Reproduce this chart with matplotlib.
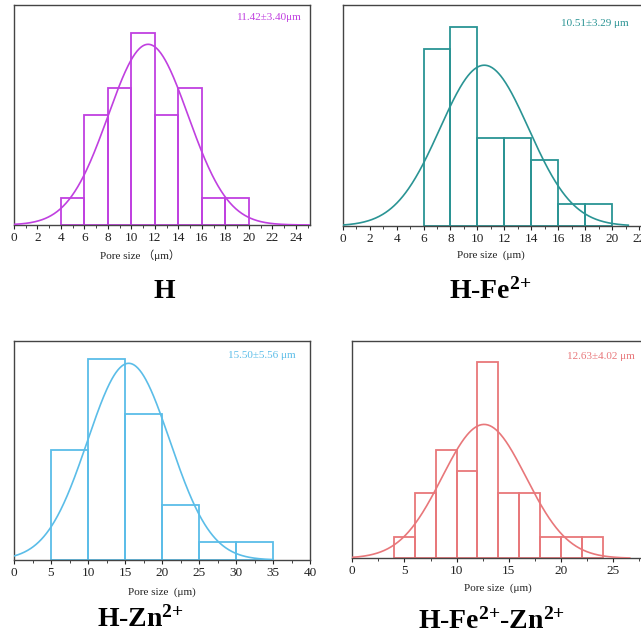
import numpy as np
import matplotlib
matplotlib.use("Agg")
import matplotlib.pyplot as plt
from matplotlib.ticker import MultipleLocator

plt.rcParams['font.family'] = ['Liberation Serif', 'Noto Sans CJK SC', 'DejaVu Serif']
plt.rcParams['mathtext.fontset'] = 'custom'
plt.rcParams['mathtext.rm'] = 'Liberation Serif'
plt.rcParams['mathtext.bf'] = 'Liberation Serif:bold'

# histogram data
h_edges = [4, 6, 8, 10, 12, 14, 16, 18, 20]
h_counts = [1, 4, 5, 7, 4, 5, 1, 1]
h_mean, h_sd = 11.42, 3.40

fe_edges = [6, 8, 10, 12, 14, 16, 18, 20]
fe_counts = [8, 9, 4, 4, 3, 1, 1]
fe_mean, fe_sd = 10.51, 3.29

zn_edges = [5, 10, 15, 20, 25, 30, 35]
zn_counts = [6, 11, 8, 3, 1, 1]
zn_mean, zn_sd = 15.50, 5.56

fezn_edges = [4, 6, 8, 10, 12, 14, 16, 18, 20, 22, 24]
fezn_counts = [1, 3, 5, 4, 9, 3, 3, 1, 1, 1]
fezn_mean, fezn_sd = 12.63, 4.02

W, H = 641, 639
fig = plt.figure(figsize=(W / 100, H / 100), dpi=100)


def box(l, r, t, b):
    return [l / W, 1 - b / H, (r - l) / W, (b - t) / H]


panels = [
    dict(edges=h_edges, counts=h_counts, mean=h_mean, sd=h_sd, color='#C040E0',
         pos=box(14, 310, 5, 225), xlim=(0, 25.2), ylim=8, major=2, minor=1,
         curve=(0, 25.2), note='11.42\u00b13.40\u03bcm', note_xy=(302, 18),
         xlabel='Pore size \uff08\u03bcm\uff09', xlabel_xy=(140, 255),
         title=r'$\mathbf{H}$', title_xy=(165, 291)),
    dict(edges=fe_edges, counts=fe_counts, mean=fe_mean, sd=fe_sd, color='#2A9494',
         pos=box(342.7, 645.8, 5, 226), xlim=(0, 22.5), ylim=10, major=2, minor=1,
         curve=(0, 21.2), note='10.51\u00b13.29 \u03bcm', note_xy=(629, 24),
         xlabel='Pore size  (\u03bcm)', xlabel_xy=(491, 255),
         title=r'$\mathbf{H\text{-}Fe^{2{+}}}$', title_xy=(490, 291)),
    dict(edges=zn_edges, counts=zn_counts, mean=zn_mean, sd=zn_sd, color='#5BBDE8',
         pos=box(14, 310, 340.7, 560), xlim=(0, 40), ylim=12, major=5, minor=2.5,
         curve=(0, 35), note='15.50\u00b15.56 \u03bcm', note_xy=(296, 355),
         xlabel='Pore size  (\u03bcm)', xlabel_xy=(162, 592),
         title=r'$\mathbf{H\text{-}Zn^{2{+}}}$', title_xy=(140, 619)),
    dict(edges=fezn_edges, counts=fezn_counts, mean=fezn_mean, sd=fezn_sd, color='#E8777A',
         pos=box(352.3, 644.4, 340.7, 558.3), xlim=(0, 28), ylim=10, major=5, minor=2.5,
         curve=(0, 26.6), note='12.63\u00b14.02 \u03bcm', note_xy=(635, 356),
         xlabel='Pore size  (\u03bcm)', xlabel_xy=(498, 588),
         title=r'$\mathbf{H\text{-}Fe^{2{+}}\text{-}Zn^{2{+}}}$', title_xy=(492, 621)),
]

for p in panels:
    ax = fig.add_axes(p['pos'])
    edges = np.array(p['edges'], dtype=float)
    counts = np.array(p['counts'], dtype=float)
    widths = np.diff(edges)
    ax.bar(edges[:-1], counts, width=widths, align='edge', fill=False,
           edgecolor=p['color'], linewidth=1.3, zorder=2)

    # fitted normal curve scaled to counts
    x = np.linspace(p['curve'][0], p['curve'][1], 400)
    n = counts.sum()
    y = n * widths[0] / (p['sd'] * np.sqrt(2 * np.pi)) * np.exp(-0.5 * ((x - p['mean']) / p['sd']) ** 2)
    ax.plot(x, y, color=p['color'], linewidth=1.2, zorder=3)

    ax.set_xlim(*p['xlim'])
    ax.set_ylim(0, p['ylim'])
    ax.xaxis.set_major_locator(MultipleLocator(p['major']))
    ax.xaxis.set_minor_locator(MultipleLocator(p['minor']))
    ax.set_yticks([])
    ax.tick_params(axis='x', which='major', direction='out', length=3, width=0.8,
                   labelsize=9.5, pad=2, colors='#222222')
    ax.tick_params(axis='x', which='minor', direction='out', length=1.8, width=0.6,
                   colors='#222222')
    for s in ax.spines.values():
        s.set_color('#444444')
        s.set_linewidth(1.0)

    fig.text(p['note_xy'][0] / W, 1 - p['note_xy'][1] / H, p['note'], color=p['color'],
             fontsize=8, ha='right', va='center')
    fig.text(p['xlabel_xy'][0] / W, 1 - p['xlabel_xy'][1] / H, p['xlabel'],
             fontsize=8, ha='center', va='center', color='#222222')
    fig.text(p['title_xy'][0] / W, 1 - p['title_xy'][1] / H, p['title'],
             fontsize=20, ha='center', va='center', color='black')

fig.savefig('out.png', dpi=100)
